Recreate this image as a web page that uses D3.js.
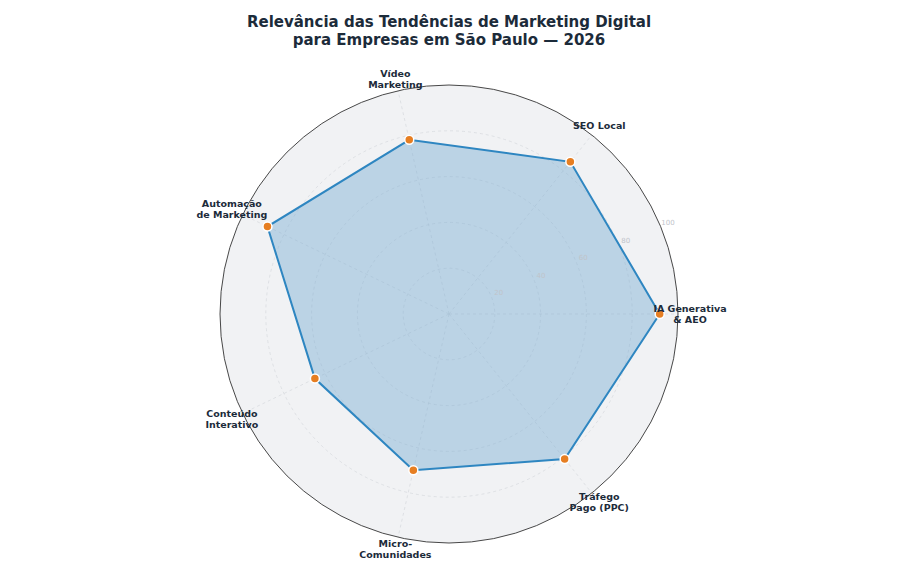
<!DOCTYPE html><html><head><meta charset="utf-8"><script src="https://cdn.jsdelivr.net/npm/d3@7"></script>
<style>body{margin:0;background:#fff;font-family:"DejaVu Sans",sans-serif}</style></head><body><svg width="900" height="570"></svg>
<script>
const categories=[["IA Generativa","& AEO"],["SEO Local"],["Vídeo","Marketing"],["Automação","de Marketing"],["Conteúdo","Interativo"],["Micro-","Comunidades"],["Tráfego","Pago (PPC)"]];
const values=[92,85,78,88,65,70,81];
const ticks=[20,40,60,80,100];
const svg=d3.select("svg");
const cx=449,cy=314,R=229;
const r=d3.scaleLinear().domain([0,100]).range([0,R]);
const ang=d3.scaleLinear().domain([0,categories.length]).range([0,2*Math.PI]);
const pt=(i,v)=>[cx+r(v)*Math.cos(ang(i)),cy-r(v)*Math.sin(ang(i))];
svg.append("text").attr("x",449).attr("y",27).attr("text-anchor","middle").attr("font-size",15).attr("font-weight","bold").attr("fill","#1c2b3a").text("Relevância das Tendências de Marketing Digital");
svg.append("text").attr("x",449).attr("y",45).attr("text-anchor","middle").attr("font-size",15).attr("font-weight","bold").attr("fill","#1c2b3a").text("para Empresas em São Paulo — 2026");
svg.append("circle").attr("cx",cx).attr("cy",cy).attr("r",R).attr("fill","#f1f2f4");
ticks.slice(0,-1).forEach(t=>svg.append("circle").attr("cx",cx).attr("cy",cy).attr("r",r(t)).attr("fill","none").attr("stroke","#d6d8dc").attr("stroke-dasharray","3,3").attr("stroke-width",0.7));
categories.forEach((c,i)=>{const [x,y]=pt(i,100);svg.append("line").attr("x1",cx).attr("y1",cy).attr("x2",x).attr("y2",y).attr("stroke","#d6d8dc").attr("stroke-dasharray","3,3").attr("stroke-width",0.7);});
svg.append("path").attr("d",d3.line()(values.map((v,i)=>pt(i,v)))+"Z").attr("fill","rgba(122,172,210,0.45)").attr("stroke","#2e86c1").attr("stroke-width",2);
svg.append("circle").attr("cx",cx).attr("cy",cy).attr("r",R).attr("fill","none").attr("stroke","#333").attr("stroke-width",0.9);
const ta=Math.PI/8;
ticks.forEach(t=>svg.append("text").attr("x",cx+(r(t)+8)*Math.cos(ta)).attr("y",cy-(r(t)+8)*Math.sin(ta)).attr("font-size",7).attr("fill","#c0c4ca").attr("text-anchor","middle").attr("dominant-baseline","middle").text(t));
values.forEach((v,i)=>{const [x,y]=pt(i,v);svg.append("circle").attr("cx",x).attr("cy",y).attr("r",4.5).attr("fill","#e67e22").attr("stroke","#fff").attr("stroke-width",1.5);});
categories.forEach((c,i)=>{const a=ang(i);const rr=241;const x=cx+rr*Math.cos(a),y=cy-rr*Math.sin(a);
 const t=svg.append("text").attr("text-anchor","middle").attr("font-size",9.5).attr("font-weight","bold").attr("fill","#1c2b3a");
 c.forEach((l,k)=>t.append("tspan").attr("x",x).attr("y",y+(k-(c.length-1)/2)*11+3.5).text(l));});
</script></body></html>
